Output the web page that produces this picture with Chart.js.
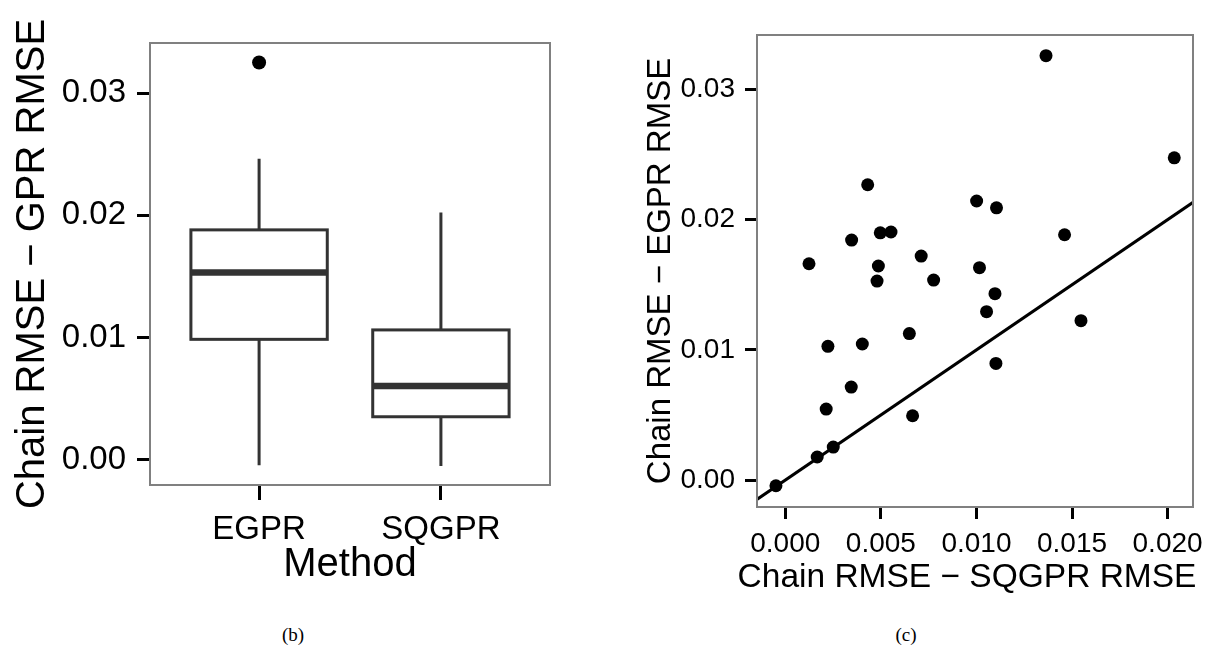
<!DOCTYPE html>
<html>
<head>
<meta charset="utf-8">
<script src="https://cdn.jsdelivr.net/npm/chart.js@4/dist/chart.umd.min.js"></script>
<style>
  body { margin: 0; background: #fff; width: 1214px; height: 652px; position: relative; overflow: hidden; }
  canvas { position: absolute; top: 0; }
  #boxChart { left: 0; }
  #scatterChart { left: 614px; }
  .caption { position: absolute; top: 623px; width: 100px; text-align: center; font-family: "Liberation Serif", serif; font-size: 19px; line-height: 24px; color: #000; }
</style>
</head>
<body>
<canvas id="boxChart" width="600" height="600"></canvas>
<canvas id="scatterChart" width="600" height="600"></canvas>
<div class="caption" style="left:243px">(b)</div>
<div class="caption" style="left:856px">(c)</div>

<script>
// box plot (b)
const methods = ["EGPR", "SQGPR"];
const whiskerLow = [-0.00044, -0.00049];
const q1 = [0.00986, 0.00353];
const medians = [0.01532, 0.00604];
const q3 = [0.01881, 0.01063];
const whiskerHigh = [0.02462, 0.02023];
const outlierMethod = ["EGPR"];
const outlierValues = [0.0325];
const boxYTicks = [0, 0.01, 0.02, 0.03];

// scatter (c)
const sqgprDiff = [0.01364, 0.02035, 0.01001, 0.01105, 0.01461, 0.01016, 0.00776, 0.01097, 0.01053, 0.01547,
  0.01102, 0.00431, 0.00497, 0.00553, 0.00347, 0.00124, 0.00487, 0.00711, 0.0048, 0.00649,
  0.00223, 0.00403, 0.00345, 0.00214, 0.00666, 0.00251, 0.00167, -0.00049];
const egprDiff = [0.03259, 0.02475, 0.02143, 0.02091, 0.01884, 0.01631, 0.01536, 0.01431, 0.01293, 0.01224,
  0.00896, 0.02268, 0.01899, 0.01905, 0.01843, 0.01661, 0.01644, 0.0172, 0.01528, 0.01125,
  0.01027, 0.01045, 0.00714, 0.00545, 0.00494, 0.00253, 0.00177, -0.00044];
const refLineX = [-0.005, 0.025];
const refLineY = [-0.005, 0.025];
const scatterXTicks = [0, 0.005, 0.01, 0.015, 0.02];
const scatterYTicks = [0, 0.01, 0.02, 0.03];
const scatterXTitle = "Chain RMSE \u2212 SQGPR RMSE";

const FONT = "Liberation Sans";
const boxWidth = 0.75;

// grey panel border like ggplot theme_few
const framePlugin = {
  id: "frame",
  afterDraw(chart) {
    const { ctx, chartArea: a } = chart;
    ctx.save();
    ctx.strokeStyle = "#808080";
    ctx.lineWidth = 2;
    ctx.strokeRect(a.left, a.top, a.right - a.left, a.bottom - a.top);
    ctx.restore();
  }
};

// x title of (c) is wider than the panel, chart.js would squeeze it
const wideTitlePlugin = {
  id: "wideTitle",
  afterDraw(chart) {
    const { ctx, chartArea: a } = chart;
    ctx.save();
    ctx.font = "33.5px " + FONT;
    ctx.fillStyle = "#000";
    ctx.textAlign = "center";
    ctx.textBaseline = "alphabetic";
    ctx.fillText(scatterXTitle, (a.left + a.right) / 2 - 8, 587);
    ctx.restore();
  }
};

const boxPlugin = {
  id: "boxes",
  beforeDatasetsDraw(chart) {
    const { ctx, scales: { x, y } } = chart;
    ctx.save();
    ctx.strokeStyle = "#333333";
    methods.forEach((m, i) => {
      const cx = x.getPixelForValue(i + 1);
      const left = x.getPixelForValue(i + 1 - boxWidth / 2);
      const right = x.getPixelForValue(i + 1 + boxWidth / 2);
      const top = y.getPixelForValue(q3[i]);
      const bottom = y.getPixelForValue(q1[i]);

      ctx.lineWidth = 3;
      ctx.beginPath();
      ctx.moveTo(cx, y.getPixelForValue(whiskerHigh[i]));
      ctx.lineTo(cx, top);
      ctx.moveTo(cx, bottom);
      ctx.lineTo(cx, y.getPixelForValue(whiskerLow[i]));
      ctx.stroke();

      ctx.fillStyle = "#fff";
      ctx.fillRect(left, top, right - left, bottom - top);
      ctx.strokeRect(left, top, right - left, bottom - top);

      ctx.lineWidth = 6.5;
      const med = y.getPixelForValue(medians[i]);
      ctx.beginPath();
      ctx.moveTo(left, med);
      ctx.lineTo(right, med);
      ctx.stroke();
    });
    ctx.restore();
  }
};

function axisGrid(len) {
  return { drawOnChartArea: false, tickLength: len, tickColor: "#000", tickWidth: 3 };
}

new Chart(document.getElementById("boxChart"), {
  type: "scatter",
  data: {
    datasets: [{
      data: outlierValues.map((v, i) => ({ x: methods.indexOf(outlierMethod[i]) + 1, y: v })),
      pointRadius: 7,
      backgroundColor: "#000",
      borderWidth: 0
    }]
  },
  options: {
    responsive: false,
    animation: false,
    layout: { padding: { top: 43, right: 50, left: 0, bottom: 0 } },
    plugins: { legend: { display: false }, tooltip: { enabled: false } },
    scales: {
      x: {
        type: "linear", min: 0.4, max: 2.6,
        afterBuildTicks: s => { s.ticks = methods.map((m, i) => ({ value: i + 1 })); },
        afterFit: s => { s.height = 115; },
        ticks: { callback: (v, i) => methods[i], font: { family: FONT, size: 33 }, color: "#000", padding: 10, autoSkip: false, maxRotation: 0 },
        grid: axisGrid(15),
        border: { display: false },
        title: { display: true, text: "Method", color: "#000", font: { family: FONT, size: 40, lineHeight: 1 }, padding: { top: 0, bottom: 15 } }
      },
      y: {
        min: -0.00205, max: 0.03409,
        afterBuildTicks: s => { s.ticks = boxYTicks.map(v => ({ value: v })); },
        afterFit: s => { s.width = 150; },
        ticks: { callback: v => v.toFixed(2), font: { family: FONT, size: 33 }, color: "#000", padding: 11 },
        grid: axisGrid(13),
        border: { display: false },
        title: { display: true, text: "Chain RMSE \u2212 GPR RMSE", color: "#000", font: { family: FONT, size: 40, lineHeight: 1 }, padding: { top: 13, bottom: 0 } }
      }
    }
  },
  plugins: [boxPlugin, framePlugin]
});

new Chart(document.getElementById("scatterChart"), {
  type: "scatter",
  data: {
    datasets: [
      {
        data: sqgprDiff.map((v, i) => ({ x: v, y: egprDiff[i] })),
        pointRadius: 6.5,
        backgroundColor: "#000",
        borderWidth: 0,
        order: 1
      },
      {
        type: "line",
        data: refLineX.map((v, i) => ({ x: v, y: refLineY[i] })),
        showLine: true,
        borderColor: "#000",
        borderWidth: 3,
        pointRadius: 0,
        clip: 0,
        order: 2
      }
    ]
  },
  options: {
    responsive: false,
    animation: false,
    layout: { padding: { top: 35, right: 21, left: 0, bottom: 0 } },
    plugins: { legend: { display: false }, tooltip: { enabled: false } },
    scales: {
      x: {
        type: "linear", min: -0.00148, max: 0.02133,
        afterBuildTicks: s => { s.ticks = scatterXTicks.map(v => ({ value: v })); },
        afterFit: s => { s.height = 93; },
        ticks: { callback: v => v.toFixed(3), font: { family: FONT, size: 28 }, color: "#000", padding: 8, autoSkip: false, maxRotation: 0 },
        grid: axisGrid(12),
        border: { display: false },
        title: { display: false }
      },
      y: {
        min: -0.00207, max: 0.03418,
        afterBuildTicks: s => { s.ticks = scatterYTicks.map(v => ({ value: v })); },
        afterFit: s => { s.width = 143; },
        ticks: { callback: v => v.toFixed(2), font: { family: FONT, size: 28 }, color: "#000", padding: 10 },
        grid: axisGrid(12),
        border: { display: false },
        title: { display: true, text: "Chain RMSE \u2212 EGPR RMSE", color: "#000", font: { family: FONT, size: 33, lineHeight: 1 }, padding: { top: 30, bottom: 0 } }
      }
    }
  },
  plugins: [framePlugin, wideTitlePlugin]
});
</script>
</body>
</html>
